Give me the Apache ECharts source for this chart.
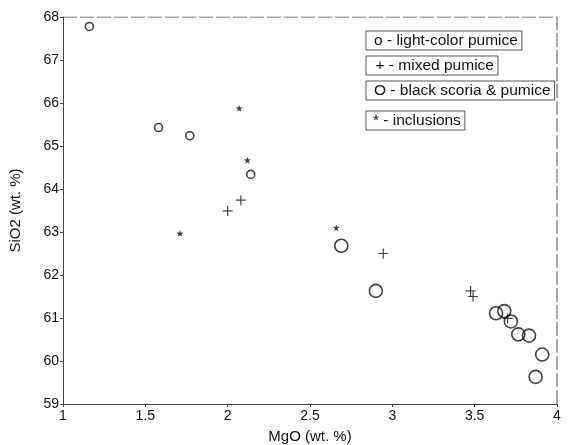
<!DOCTYPE html>
<html>
<head>
<meta charset="utf-8">
<script src="https://cdn.jsdelivr.net/npm/echarts@6/dist/echarts.min.js"></script>
<style>
  html, body { margin: 0; padding: 0; background: #fff; }
  #chart { width: 579px; height: 445px; }
</style>
</head>
<body>
<div id="chart"></div>
<script>
// [MgO, SiO2] pairs
const lightPumice = [[1.16, 67.78], [1.58, 65.43], [1.77, 65.24], [2.14, 64.34]];
const mixedPumice = [[2.0, 63.49], [2.08, 63.74], [2.945, 62.5], [3.475, 61.63], [3.49, 61.5], [3.70, 60.99]];
const blackScoria = [[2.69, 62.68], [2.90, 61.63], [3.63, 61.11], [3.68, 61.16], [3.72, 60.92],
  [3.765, 60.62], [3.83, 60.59], [3.91, 60.15], [3.87, 59.63]];
const inclusions = [[1.71, 62.97], [2.07, 65.88], [2.12, 64.67], [2.66, 63.1]];

const seriesNames = ['o - light-color pumice', '+ - mixed pumice', 'O - black scoria & pumice', '* - inclusions'];

const chart = echarts.init(document.getElementById('chart'));

const font = 'Arial, "Liberation Sans", sans-serif';
const ink = '#111';

const plusPath = 'path://M0,5 L10,5 M5,0 L5,10';
const starPath = 'path://M5,0 L6.2,3.6 L10,3.7 L7,6 L8.1,9.6 L5,7.5 L1.9,9.6 L3,6 L0,3.7 L3.8,3.6 Z';

// one boxed legend per series, like the reference
const legendTops = [31, 56, 81, 111];
const legends = seriesNames.map((n, i) => ({
  data: [n],
  left: 366,
  top: legendTops[i],
  orient: 'vertical',
  itemWidth: 0,
  itemHeight: 0,
  itemGap: 0,
  padding: [2, 4, 1, 2],
  borderColor: '#555',
  borderWidth: 1,
  selectedMode: false,
  textStyle: { color: ink, fontSize: 15.5, fontFamily: font, padding: 0 },
  icon: 'rect',
  itemStyle: { opacity: 0 },
}));

const option = {
  animation: false,
  backgroundColor: '#fff',
  grid: { left: 63, right: 22, top: 17, bottom: 41, outerBoundsMode: 'none', containLabel: false },
  legend: legends,
  xAxis: {
    type: 'value',
    min: 1,
    max: 4,
    interval: 0.5,
    name: 'MgO (wt. %)',
    nameLocation: 'middle',
    nameGap: 25,
    nameTextStyle: { color: ink, fontSize: 15, fontFamily: font },
    axisLine: { show: true, onZero: false, lineStyle: { color: '#444', width: 1 } },
    axisTick: { show: true, length: 3, lineStyle: { color: '#444' } },
    axisLabel: { color: ink, fontSize: 14, fontFamily: font, margin: 5 },
    splitLine: { show: false },
  },
  yAxis: {
    type: 'value',
    min: 59,
    max: 68,
    interval: 1,
    name: 'SiO2 (wt. %)',
    nameLocation: 'middle',
    nameGap: 40,
    nameTextStyle: { color: ink, fontSize: 15, fontFamily: font },
    axisLine: { show: true, onZero: false, lineStyle: { color: '#444', width: 1 } },
    axisTick: { show: true, length: 3, lineStyle: { color: '#444' } },
    axisLabel: { color: ink, fontSize: 14, fontFamily: font, margin: 4 },
    splitLine: { show: false },
  },
  series: [
    {
      name: seriesNames[0],
      type: 'scatter',
      data: lightPumice,
      symbol: 'circle',
      symbolSize: 8,
      itemStyle: { color: '#fff', borderColor: ink, borderWidth: 1.6 },
    },
    {
      name: seriesNames[1],
      type: 'scatter',
      data: mixedPumice,
      symbol: plusPath,
      symbolSize: 10,
      itemStyle: { color: 'none', borderColor: ink, borderWidth: 1.2 },
    },
    {
      name: seriesNames[2],
      type: 'scatter',
      data: blackScoria,
      symbol: 'circle',
      symbolSize: 13,
      itemStyle: { color: 'rgba(255,255,255,0)', borderColor: ink, borderWidth: 1.6 },
    },
    {
      name: seriesNames[3],
      type: 'scatter',
      data: inclusions,
      symbol: starPath,
      symbolSize: 7,
      itemStyle: { color: ink },
    },
    {
      // top and right frame of the plot box
      type: 'line',
      data: [[1, 68], [4, 68], [4, 59]],
      symbol: 'none',
      silent: true,
      lineStyle: { color: '#555', width: 1, type: [14, 3] },
      z: 1,
    },
  ],
};

chart.setOption(option);
</script>
</body>
</html>
